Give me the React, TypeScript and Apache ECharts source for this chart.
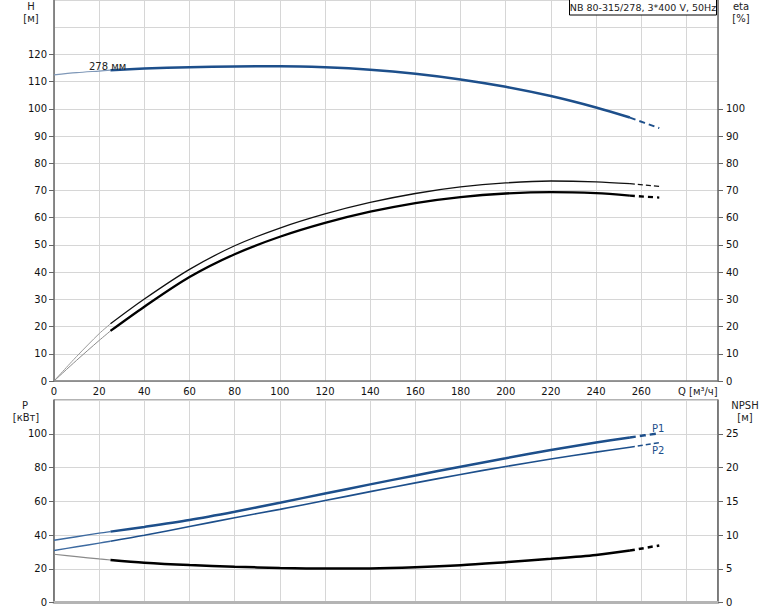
import React, { useEffect, useRef } from 'react';
import * as echarts from 'echarts';

// Flow points (m³/h)
const Q = [0, 10, 20, 25, 40, 60, 80, 100, 120, 140, 160, 180, 200, 220, 240, 255, 268];
// Head H (m)
const H = [112.5, 113.3, 113.9, 114.2, 114.8, 115.3, 115.6, 115.7, 115.3, 114.4, 112.9, 110.8, 108.1, 104.7, 100.5, 96.8, 92.9];
// Efficiency curves (%)
const ETA_1 = [0, 9.0, 17.4, 21, 30.1, 41.0, 49.7, 56.2, 61.4, 65.6, 68.9, 71.3, 72.8, 73.5, 73.2, 72.5, 71.5];
const ETA_2 = [0, 7.6, 14.9, 18.4, 27.3, 38.2, 46.6, 53.0, 58.1, 62.2, 65.4, 67.6, 68.9, 69.4, 69.0, 68.1, 67.4];
// Power (kW)
const P1 = [36.9, 39.0, 41.1, 42.0, 44.8, 48.9, 53.8, 59.1, 64.6, 70.0, 75.3, 80.5, 85.5, 90.4, 94.8, 97.8, 100.3];
const P2 = [30.8, 33.0, 35.2, 36.3, 39.8, 45.0, 50.2, 55.2, 60.4, 65.7, 70.9, 75.9, 80.6, 85.0, 89.1, 92.0, 94.7];
// NPSH (m)
const NPSH = [7.15, 6.8, 6.45, 6.3, 5.9, 5.55, 5.3, 5.12, 5.03, 5.05, 5.22, 5.52, 5.98, 6.48, 7.05, 7.7, 8.45];

const Q_TICKS = [0, 20, 40, 60, 80, 100, 120, 140, 160, 180, 200, 220, 240, 260];
const H_TICKS = [0, 10, 20, 30, 40, 50, 60, 70, 80, 90, 100, 110, 120];
const ETA_TICKS = [0, 10, 20, 30, 40, 50, 60, 70, 80, 90, 100];
const P_TICKS = [0, 20, 40, 60, 80, 100];
const NPSH_TICKS = [0, 5, 10, 15, 20, 25];

const THIN_END = 25;
const DASH_START = 255;

const FONT = 'DejaVu Sans';
const BLUE = '#1d4f8b';

function seg(vals: number[], from: number, to: number) {
  return Q.map((q, i) => [q, vals[i]]).filter(([q]) => q >= from && q <= to);
}

function curve(vals: number[], xi: number, yi: number, styles: any[]) {
  const ranges = [
    [0, THIN_END],
    [THIN_END, DASH_START],
    [DASH_START, 1000],
  ];
  return ranges.map((r, k) => ({
    type: 'line',
    xAxisIndex: xi,
    yAxisIndex: yi,
    data: seg(vals, r[0], r[1]),
    smooth: 0.3,
    showSymbol: false,
    symbol: 'none',
    silent: true,
    lineStyle: styles[k],
    z: 5,
  }));
}

function txt(text: string, x: number, y: number, align: string, extra: any = {}) {
  return {
    type: 'text',
    x,
    y,
    silent: true,
    style: {
      text,
      fill: extra.fill || '#222',
      fontSize: extra.fontSize || 10,
      fontFamily: FONT,
      align,
      verticalAlign: 'middle',
      textAlign: align,
      textVerticalAlign: 'middle',
    },
    z: 20,
  };
}

const labelStyle = { fontSize: 10, fontFamily: FONT, color: '#111' };

export default function App() {
  const ref = useRef<HTMLDivElement>(null);
  useEffect(() => {
    if (!ref.current) return;
    const chart = echarts.init(ref.current, null, { renderer: 'svg' });
    const qMax = 294;
    const option: any = {
      animation: false,
      backgroundColor: '#fff',
      grid: [
        { left: 54, top: 0, width: 664, height: 381, show: false },
        { left: 54, top: 400, width: 664, height: 202.5, show: true, borderColor: '#666', borderWidth: 1 },
      ],
      xAxis: [
        {
          gridIndex: 0, type: 'value', min: 0, max: qMax, interval: 20,
          axisLine: { show: true, onZero: false, lineStyle: { color: '#777', width: 1.5 } },
          axisTick: { show: false },
          axisLabel: {
            ...labelStyle, margin: 5,
            formatter: (v: number) => (Q_TICKS.includes(v) ? String(v) : ''),
          },
          splitLine: { show: true, lineStyle: { color: '#d6d6d6', width: 1 } },
        },
        {
          gridIndex: 1, type: 'value', min: 0, max: qMax, interval: 20,
          axisLine: { show: true, onZero: false, lineStyle: { color: '#b4b4b4', width: 3 } },
          axisTick: { show: false },
          axisLabel: { show: false },
          splitLine: { show: true, lineStyle: { color: '#d6d6d6', width: 1 } },
        },
      ],
      yAxis: [
        {
          gridIndex: 0, type: 'value', position: 'left', min: 0, max: 140, interval: 10,
          axisLine: { show: true, lineStyle: { color: '#666', width: 1.5 } },
          axisTick: { show: true, length: 5, lineStyle: { color: '#666' }, customValues: H_TICKS },
          axisLabel: { ...labelStyle, margin: 7, customValues: H_TICKS },
          splitLine: { show: false },
        },
        {
          gridIndex: 0, type: 'value', position: 'right', min: 0, max: 140, interval: 10,
          axisLine: { show: true, lineStyle: { color: '#666', width: 1.5 } },
          axisTick: { show: true, length: 5, lineStyle: { color: '#666' }, customValues: ETA_TICKS },
          axisLabel: { ...labelStyle, margin: 8, customValues: ETA_TICKS },
          splitLine: { show: false },
        },
        {
          gridIndex: 0, type: 'value', position: 'left', min: 0, max: 140, interval: 10,
          axisLine: { show: false }, axisTick: { show: false }, axisLabel: { show: false },
          splitLine: { show: true, lineStyle: { color: '#d6d6d6', width: 1 } },
        },
        {
          gridIndex: 1, type: 'value', position: 'left', min: 0, max: 120, interval: 20,
          axisLine: { show: true, lineStyle: { color: '#666', width: 1.5 } },
          axisTick: { show: true, length: 5, lineStyle: { color: '#666' }, customValues: P_TICKS },
          axisLabel: { ...labelStyle, margin: 7, customValues: P_TICKS },
          splitLine: { show: false },
        },
        {
          gridIndex: 1, type: 'value', position: 'right', min: 0, max: 30, interval: 5,
          axisLine: { show: true, lineStyle: { color: '#666', width: 1.5 } },
          axisTick: { show: true, length: 5, lineStyle: { color: '#666' }, customValues: NPSH_TICKS },
          axisLabel: { ...labelStyle, margin: 8, customValues: NPSH_TICKS },
          splitLine: { show: false },
        },
        {
          gridIndex: 1, type: 'value', position: 'left', min: 0, max: 120, interval: 20,
          axisLine: { show: false }, axisTick: { show: false }, axisLabel: { show: false },
          splitLine: { show: true, lineStyle: { color: '#d6d6d6', width: 1 } },
        },
      ],
      series: [
        ...curve(H, 0, 0, [
          { color: '#7f98b8', width: 1.2 },
          { color: BLUE, width: 2.5 },
          { color: BLUE, width: 2, type: [6, 4] },
        ]),
        ...curve(ETA_1, 0, 1, [
          { color: '#9a9a9a', width: 1 },
          { color: '#111', width: 1.3 },
          { color: '#111', width: 1.3, type: [5, 3] },
        ]),
        ...curve(ETA_2, 0, 1, [
          { color: '#8a8a8a', width: 1 },
          { color: '#000', width: 2.3 },
          { color: '#000', width: 2.3, type: [5, 4] },
        ]),
        ...curve(P1, 1, 3, [
          { color: '#3d6aa0', width: 1.4 },
          { color: BLUE, width: 2.5 },
          { color: BLUE, width: 2.5, type: [6, 4] },
        ]),
        ...curve(P2, 1, 3, [
          { color: '#3d6aa0', width: 1.4 },
          { color: BLUE, width: 1.6 },
          { color: BLUE, width: 1.4, type: [5, 3] },
        ]),
        ...curve(NPSH, 1, 4, [
          { color: '#8a8a8a', width: 1.2 },
          { color: '#000', width: 2.5 },
          { color: '#000', width: 2.5, type: [5, 4] },
        ]),
      ],
      graphic: [
        txt('H', 31, 6, 'center'),
        txt('[м]', 31, 18, 'center'),
        txt('eta', 741, 6, 'center'),
        txt('[%]', 741, 18, 'center'),
        txt('P', 25, 405, 'center'),
        txt('[кВт]', 26, 417, 'center'),
        txt('NPSH', 745, 405, 'center'),
        txt('[м]', 745, 417, 'center'),
        txt('Q [м³/ч]', 678, 391, 'left'),
        txt('278 мм', 89, 66, 'left'),
        txt('P1', 652, 428, 'left', { fill: BLUE }),
        txt('P2', 652, 450, 'left', { fill: BLUE }),
        {
          type: 'rect',
          silent: true,
          shape: { x: 569.5, y: -0.5, width: 147, height: 15.5 },
          style: { fill: '#fff', stroke: '#000', lineWidth: 1 },
          z: 19,
        },
        txt('NB 80-315/278, 3*400 V, 50Hz', 643, 7.5, 'center', { fontSize: 9.5 }),
      ],
    };
    chart.setOption(option);
    return () => chart.dispose();
  }, []);
  return (
    <div
      ref={ref}
      style={{ position: 'fixed', left: 0, top: 0, width: 774, height: 611, background: '#fff' }}
    />
  );
}
